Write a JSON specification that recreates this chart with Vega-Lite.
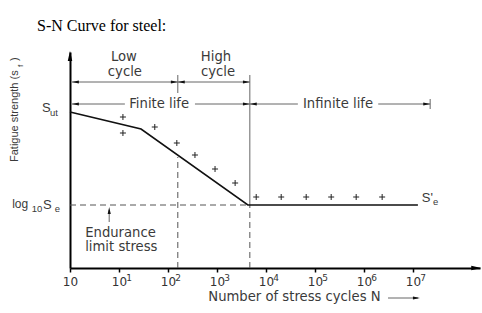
{
  "$schema": "https://vega.github.io/schema/vega-lite/v6.json",
  "width": 410,
  "height": 216,
  "autosize": "none",
  "padding": {"left": 70, "top": 52, "right": 2, "bottom": 45},
  "title": {"text": "S-N Curve for steel:", "font": "Liberation Serif", "fontSize": 16, "fontWeight": "normal", "color": "#000", "anchor": "start", "frame": "group", "dx": -33, "offset": 16},
  "config": {"view": {"stroke": null}, "text": {"font": "Liberation Sans", "color": "#3a3a3a", "baseline": "middle"}},
  "datasets": {
    "curve": [{"n": 0, "s": 156}, {"n": 1.45, "s": 139}, {"n": 3.63, "s": 63}, {"n": 7.1, "s": 63}],
    "tests": [{"n": 1.08, "s": 151}, {"n": 1.08, "s": 135}, {"n": 1.73, "s": 141}, {"n": 2.18, "s": 125}, {"n": 2.55, "s": 113}, {"n": 2.96, "s": 99}, {"n": 3.37, "s": 85}, {"n": 3.8, "s": 71}, {"n": 4.31, "s": 71}, {"n": 4.82, "s": 71}, {"n": 5.33, "s": 71}, {"n": 5.84, "s": 71}, {"n": 6.37, "s": 71}],
    "dashed": [{"n": 0, "n2": 3.67, "s": 63, "s2": 63}, {"n": 2.2, "n2": 2.2, "s": 0, "s2": 111}, {"n": 3.67, "n2": 3.67, "s": 0, "s2": 63}],
    "thin": [{"n": 3.67, "n2": 3.67, "s": 63, "s2": 193}, {"n": 2.2, "n2": 2.2, "s": 175, "s2": 193}, {"n": 0.04, "n2": 3.67, "s": 186, "s2": 186}, {"n": 0.04, "n2": 1.12, "s": 164, "s2": 164}, {"n": 2.55, "n2": 3.67, "s": 164, "s2": 164}, {"n": 3.67, "n2": 4.65, "s": 164, "s2": 164}, {"n": 6.29, "n2": 7.35, "s": 164, "s2": 164}, {"n": 7.35, "n2": 7.35, "s": 159, "s2": 169}, {"n": 0.8, "n2": 0.8, "s": 46, "s2": 58}, {"n": 6.49, "n2": 7.1, "s": -30, "s2": -30}],
    "heads": [{"n": 0.11, "s": 186, "dir": "left"}, {"n": 0.11, "s": 164, "dir": "left"}, {"n": 2.13, "s": 186, "dir": "right"}, {"n": 2.27, "s": 186, "dir": "left"}, {"n": 3.6, "s": 186, "dir": "right"}, {"n": 3.6, "s": 164, "dir": "right"}, {"n": 3.74, "s": 164, "dir": "left"}, {"n": 7.28, "s": 164, "dir": "right"}, {"n": 7.07, "s": -30, "dir": "right"}, {"n": 0.8, "s": 57.5, "dir": "up"}],
    "bigheads": [{"n": 8.29, "s": 0, "dir": "right"}, {"n": 0, "s": 212, "dir": "up"}],
    "labels": [{"n": 1.1, "s": 211, "t": "Low"}, {"n": 1.12, "s": 196, "t": "cycle"}, {"n": 2.98, "s": 211, "t": "High"}, {"n": 3.02, "s": 196, "t": "cycle"}, {"n": 1.82, "s": 164, "t": "Finite life"}, {"n": 5.47, "s": 164, "t": "Infinite life"}, {"n": 4.58, "s": -29, "t": "Number of stress cycles N"}],
    "leftlabels": [{"n": 0.31, "s": 35, "t": "Endurance"}, {"n": 0.31, "s": 21, "t": "limit stress"}],
    "sups": [{"n": 1, "s": -10, "t": "1"}, {"n": 2, "s": -10, "t": "2"}, {"n": 3, "s": -10, "t": "3"}, {"n": 4, "s": -10, "t": "4"}, {"n": 5, "s": -10, "t": "5"}, {"n": 6, "s": -10, "t": "6"}, {"n": 7, "s": -10, "t": "7"}],
    "sym": [{"n": -0.57, "s": 160, "t": "S"}, {"n": -0.55, "s": 63, "t": "S"}, {"n": 7.18, "s": 70, "t": "S'"}],
    "logtxt": [{"n": -1.18, "s": 64, "t": "log"}],
    "subs": [{"n": -0.41, "s": 155, "t": "ut"}, {"n": -0.78, "s": 59, "t": "10"}, {"n": -0.31, "s": 59, "t": "e"}, {"n": 7.41, "s": 66, "t": "e"}],
    "ytitle": [{"n": -1.12, "s": 106, "t": "Fatigue strength (s"}, {"n": -1.12, "s": 207, "t": ")"}],
    "ysub": [{"n": -0.99, "s": 201, "t": "f"}]
  },
  "encoding": {
    "x": {"field": "n", "type": "quantitative", "scale": {"domain": [0, 8.367], "nice": false, "zero": false},
      "axis": {"values": [0, 1, 2, 3, 4, 5, 6, 7], "title": null, "grid": false, "domainColor": "#000", "domainWidth": 2, "tickColor": "#000", "tickWidth": 1.5, "tickSize": 4, "labelFont": "DejaVu Sans", "labelFontSize": 12, "labelColor": "#333", "labelPadding": 4, "labelDx": -2, "labelFlush": false, "labelOverlap": false, "labelExpr": "'10'"}},
    "y": {"field": "s", "type": "quantitative", "scale": {"domain": [0, 216], "nice": false, "zero": false},
      "axis": {"title": null, "grid": false, "ticks": false, "labels": false, "domainColor": "#000", "domainWidth": 2}}
  },
  "layer": [
    {"data": {"name": "dashed"}, "mark": {"type": "rule", "color": "#555", "strokeWidth": 1, "strokeDash": [6, 4]}, "encoding": {"x2": {"field": "n2"}, "y2": {"field": "s2"}}},
    {"data": {"name": "thin"}, "mark": {"type": "rule", "color": "#666", "strokeWidth": 1}, "encoding": {"x2": {"field": "n2"}, "y2": {"field": "s2"}}},
    {"data": {"name": "heads"}, "mark": {"type": "point", "filled": true, "color": "#111", "size": 49, "opacity": 1},
      "encoding": {"shape": {"field": "dir", "type": "nominal", "legend": null, "scale": {"domain": ["left", "right", "up"], "range": ["M-1,0L1,-0.45L1,0.45Z", "M1,0L-1,-0.45L-1,0.45Z", "M0,-1L-0.45,1L0.45,1Z"]}}}},
    {"data": {"name": "bigheads"}, "mark": {"type": "point", "filled": true, "color": "#000", "size": 100, "opacity": 1},
      "encoding": {"shape": {"field": "dir", "type": "nominal", "legend": null, "scale": {"domain": ["left", "right", "up"], "range": ["M-1,0L1,-0.45L1,0.45Z", "M1,0L-1,-0.45L-1,0.45Z", "M0,-1L-0.45,1L0.45,1Z"]}}}},
    {"data": {"name": "curve"}, "mark": {"type": "line", "color": "#111", "strokeWidth": 1.6}, "encoding": {"order": {"field": "n", "type": "quantitative"}}},
    {"data": {"name": "tests"}, "mark": {"type": "point", "shape": "M-1,0L1,0M0,-1L0,1", "filled": false, "color": "#222", "strokeWidth": 1, "size": 36, "opacity": 1}},
    {"data": {"name": "labels"}, "mark": {"type": "text", "font": "DejaVu Sans", "fontSize": 13.2, "align": "center"}, "encoding": {"text": {"field": "t"}}},
    {"data": {"name": "leftlabels"}, "mark": {"type": "text", "font": "DejaVu Sans", "fontSize": 13.2, "align": "left"}, "encoding": {"text": {"field": "t"}}},
    {"data": {"name": "sups"}, "mark": {"type": "text", "font": "DejaVu Sans", "fontSize": 9, "align": "center", "dx": 10, "color": "#333"}, "encoding": {"text": {"field": "t"}}},
    {"data": {"name": "sym"}, "mark": {"type": "text", "fontSize": 13, "align": "left"}, "encoding": {"text": {"field": "t"}}},
    {"data": {"name": "logtxt"}, "mark": {"type": "text", "fontSize": 12, "align": "left"}, "encoding": {"text": {"field": "t"}}},
    {"data": {"name": "subs"}, "mark": {"type": "text", "fontSize": 9.5, "align": "left"}, "encoding": {"text": {"field": "t"}}},
    {"data": {"name": "ytitle"}, "mark": {"type": "text", "fontSize": 11, "align": "left", "angle": 270}, "encoding": {"text": {"field": "t"}}},
    {"data": {"name": "ysub"}, "mark": {"type": "text", "fontSize": 8, "align": "left", "angle": 270}, "encoding": {"text": {"field": "t"}}}
  ]
}
